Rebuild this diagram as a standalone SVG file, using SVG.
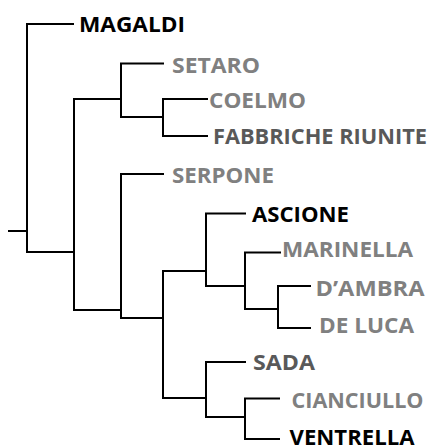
<svg xmlns="http://www.w3.org/2000/svg" width="434" height="446" viewBox="0 0 434 446">
  <style>
    .edge { fill: none; stroke: #000; stroke-width: 2; stroke-linecap: square; }
    .lbl { font-family: "Open Sans", Lato, "Liberation Sans", sans-serif; font-weight: bold; font-size: 22px; }
    .black { fill: #000; }
    .gray { fill: #808080; }
    .dark { fill: #595959; }
  </style>
  <rect width="434" height="446" fill="#fff"/>

  <!-- tree branches -->
  <g id="connectors" class="edge">
    <path d="M9,231 H27"/>
    <path d="M73,24 H27 V252 H74"/>
    <path d="M121,99 H74 V310 H121"/>
    <path d="M163,63.5 H121 V117 H163"/>
    <path d="M207,99 H163 V136 H207"/>
    <path d="M163,174 H121 V318 H163"/>
    <path d="M206,271 H163 V398 H206"/>
    <path d="M245,213.5 H206 V286 H245"/>
    <path d="M280,252.5 H245 V309 H278"/>
    <path d="M310,286 H278 V328 H310"/>
    <path d="M245,362 H206 V417 H245"/>
    <path d="M279,398.5 H245 V439 H279"/>
  </g>

  <!-- leaf labels -->
  <g id="magaldi"><text class="lbl black" x="79" y="32" textLength="106" lengthAdjust="spacingAndGlyphs">MAGALDI</text></g>
  <g id="setaro"><text class="lbl gray" x="172" y="72.5" textLength="88" lengthAdjust="spacingAndGlyphs">SETARO</text></g>
  <g id="coelmo"><text class="lbl gray" x="209" y="108" textLength="97" lengthAdjust="spacingAndGlyphs">COELMO</text></g>
  <g id="fabbriche-riunite"><text class="lbl dark" x="213" y="143.5" textLength="214" lengthAdjust="spacingAndGlyphs">FABBRICHE RIUNITE</text></g>
  <g id="serpone"><text class="lbl gray" x="172" y="182.5" textLength="102" lengthAdjust="spacingAndGlyphs">SERPONE</text></g>
  <g id="ascione"><text class="lbl black" x="252" y="222" textLength="97" lengthAdjust="spacingAndGlyphs">ASCIONE</text></g>
  <g id="marinella"><text class="lbl gray" x="282" y="257" textLength="131" lengthAdjust="spacingAndGlyphs">MARINELLA</text></g>
  <g id="dambra"><text class="lbl gray" x="315.5" y="295.5" textLength="109" lengthAdjust="spacingAndGlyphs">D’AMBRA</text></g>
  <g id="de-luca"><text class="lbl gray" x="319" y="333" textLength="95" lengthAdjust="spacingAndGlyphs">DE LUCA</text></g>
  <g id="sada"><text class="lbl dark" x="253" y="370" textLength="62" lengthAdjust="spacingAndGlyphs">SADA</text></g>
  <g id="cianciullo"><text class="lbl gray" x="291.5" y="408" textLength="132" lengthAdjust="spacingAndGlyphs">CIANCIULLO</text></g>
  <g id="ventrella"><text class="lbl black" x="289.5" y="444.5" textLength="125" lengthAdjust="spacingAndGlyphs">VENTRELLA</text></g>
</svg>
